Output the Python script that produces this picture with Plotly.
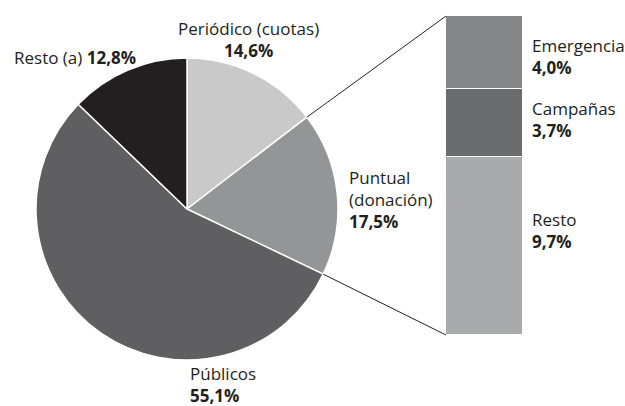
import math
import plotly.graph_objects as go

# pie data (clockwise from 12 o'clock)
pie_labels = ['Periódico (cuotas)', 'Puntual (donación)', 'Públicos', 'Resto (a)']
pie_values = [14.6, 17.5, 55.1, 12.8]
pie_colors = ['#c9c9ca', '#949597', '#5f5f61', '#231f20']

# breakdown of "Puntual (donación)" (top to bottom)
bar_labels = ['Emergencia', 'Campañas', 'Resto']
bar_values = [4.0, 3.7, 9.7]
bar_colors = ['#858688', '#6b6c6e', '#a9aaac']

W, H = 625, 406
FONT = '"Open Sans", sans-serif'
TXT = '#231f20'

def px(x):
    return x / W

def py(y):
    return (H - y) / H

# pie domain: square in pixels
pcx, pcy, pr = 187, 209, 151
pie_dom_x = [px(pcx - pr), px(pcx + pr)]
pie_dom_y = [py(pcy + pr), py(pcy - pr)]

# bar domain
bar_dom_x = [px(446), px(523)]
bar_dom_y = [py(335), py(16)]

fig = go.Figure()
fig.add_trace(go.Pie(
    labels=pie_labels, values=pie_values, sort=False, direction='clockwise',
    rotation=0, marker=dict(colors=pie_colors, line=dict(color='white', width=1.5)),
    textinfo='none', hoverinfo='label+percent', showlegend=False,
    domain=dict(x=pie_dom_x, y=pie_dom_y),
))

# stacked bar, bottom segment first
for lab, val, col in reversed(list(zip(bar_labels, bar_values, bar_colors))):
    fig.add_trace(go.Bar(
        x=[0], y=[val], name=lab, width=1, showlegend=False,
        marker=dict(color=col, line=dict(color='white', width=1.5)),
    ))

total_bar = sum(bar_values)

# connector lines from the Puntual slice edges to the bar corners
tot = sum(pie_values)
start_frac = pie_values[0] / tot
end_frac = (pie_values[0] + pie_values[1]) / tot

def edge_point(frac):
    a = 2 * math.pi * frac
    return px(pcx + pr * math.sin(a)), py(pcy - pr * math.cos(a))

p1 = edge_point(start_frac)
p2 = edge_point(end_frac)
shapes = [
    dict(type='line', xref='paper', yref='paper', x0=p1[0], y0=p1[1],
         x1=bar_dom_x[0], y1=bar_dom_y[1], line=dict(color='#231f20', width=1)),
    dict(type='line', xref='paper', yref='paper', x0=p2[0], y0=p2[1],
         x1=bar_dom_x[0], y1=bar_dom_y[0], line=dict(color='#231f20', width=1)),
]

def fmt(v):
    return f'{v:.1f}'.replace('.', ',') + '%'

def ann(x, y, text, xanchor='left'):
    return dict(x=px(x), y=py(y), xref='paper', yref='paper', text=text,
                showarrow=False, xanchor=xanchor, yanchor='middle', align=xanchor,
                font=dict(family=FONT, size=17, color=TXT))

annotations = [
    ann(12, 57, f'{pie_labels[3]} <b>{fmt(pie_values[3])}</b>'),
    ann(248, 39, f'{pie_labels[0]}<br><b>{fmt(pie_values[0])}</b>', 'center'),
    ann(347, 200, 'Puntual<br>(donación)<br><b>' + fmt(pie_values[1]) + '</b>'),
    ann(188, 384, f'{pie_labels[2]}<br><b>{fmt(pie_values[2])}</b>'),
]
bar_label_y = [56, 120, 230]
for lab, val, yy in zip(bar_labels, bar_values, bar_label_y):
    annotations.append(ann(530, yy, f'{lab}<br><b>{fmt(val)}</b>'))

fig.update_layout(
    width=W, height=H, margin=dict(l=0, r=0, t=0, b=0),
    paper_bgcolor='white', plot_bgcolor='white', barmode='stack', bargap=0,
    xaxis=dict(domain=bar_dom_x, range=[-0.5, 0.5], visible=False, fixedrange=True),
    yaxis=dict(domain=bar_dom_y, range=[0, total_bar], visible=False, fixedrange=True),
    shapes=shapes, annotations=annotations,
    font=dict(family=FONT, color=TXT),
)

# drop the default body margin so the figure fills the window
fig.write_html('out.html', config={'displayModeBar': False},
               post_script="document.body.style.margin='0';")
